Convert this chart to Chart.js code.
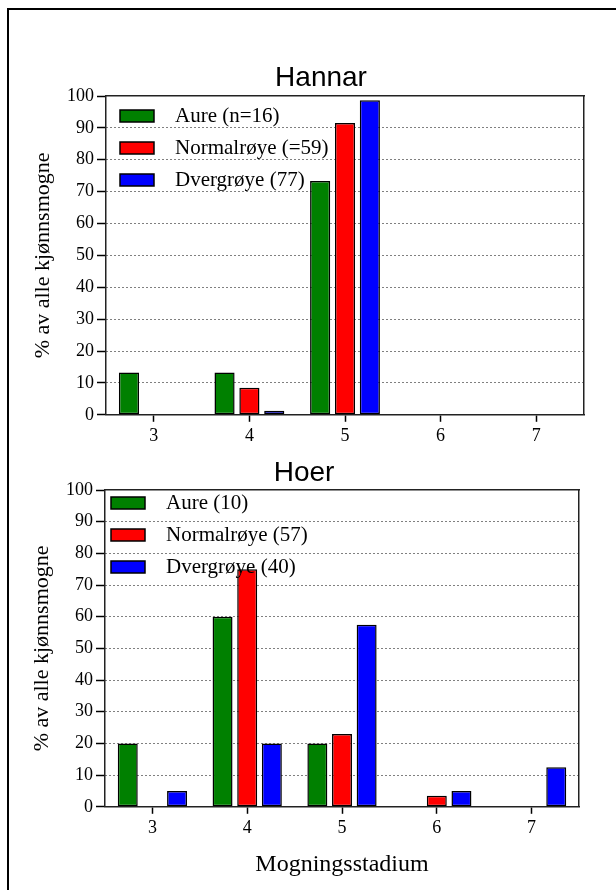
<!DOCTYPE html>
<html>
<head>
<meta charset="utf-8">
<script src="https://cdn.jsdelivr.net/npm/chart.js@4.4.1/dist/chart.umd.min.js"></script>
<style>
  html, body { margin: 0; padding: 0; background: #fff; overflow: hidden; }
  body { width: 616px; height: 890px; position: relative; }
  #frame { position: absolute; left: 7px; top: 8px; width: 700px; height: 1000px; border: 2px solid #000; }
  canvas { position: absolute; }
</style>
</head>
<body>
<div id="frame"></div>
<canvas id="hannar-chart" width="606" height="415" style="left:10px; top:40px;"></canvas>
<canvas id="hoer-chart" width="606" height="442" style="left:10px; top:450px;"></canvas>
<script>
// modningsstadium
const stages = ['3', '4', '5', '6', '7'];
const yTicks = [0, 10, 20, 30, 40, 50, 60, 70, 80, 90, 100];

// Hannar (%)
const hannarLabels = ['Aure (n=16)', 'Normalrøye (=59)', 'Dvergrøye (77)'];
const hannarAure = [13.3, 13.3, 73.3, 0, 0];
const hannarNormal = [0, 8.5, 91.5, 0, 0];
const hannarDverg = [0, 1.3, 98.7, 0, 0];

// Hoer (%)
const hoerLabels = ['Aure (10)', 'Normalrøye (57)', 'Dvergrøye (40)'];
const hoerAure = [20, 60, 20, 0, 0];
const hoerNormal = [0, 75, 23, 3.5, 0];
const hoerDverg = [5, 20, 57.5, 5, 12.5];

const colors = ['#008000', '#ff0000', '#0000ff'];
const serif = 'Liberation Serif';

// legend on top of the bars, placed inside the plot box
const legendTweak = {
  id: 'legendTweak',
  afterInit(chart) {
    const lg = chart.legend;
    lg._layers = () => [{ z: 1, draw: (area) => lg.draw(area) }];
  },
  afterLayout(chart, args, opts) {
    const lg = chart.legend;
    const h = lg.height;
    lg.left = chart.chartArea.left + (opts.dx || 0);
    lg.top = chart.chartArea.top + (opts.dy || 0);
    lg.bottom = lg.top + h;
  }
};

function makeChart(id, o) {
  const ctx = document.getElementById(id);
  new Chart(ctx, {
    type: 'bar',
    data: {
      labels: stages,
      datasets: o.series.map((s, i) => ({
        label: o.labels[i],
        data: s,
        backgroundColor: colors[i],
        borderColor: '#000',
        borderWidth: 1.5,
        borderSkipped: false,
        barPercentage: 0.81,
        categoryPercentage: 0.78
      }))
    },
    plugins: [legendTweak],
    options: {
      responsive: false,
      animation: false,
      layout: { padding: o.padding },
      scales: {
        x: {
          type: 'category',
          offset: true,
          grid: { drawOnChartArea: false, offset: false, tickLength: 7, tickColor: '#000', tickWidth: 1.5 },
          border: { display: true, color: '#222', width: 1.5 },
          ticks: { color: '#000', padding: 4, font: { family: serif, size: 18 } },
          title: o.xTitle ? {
            display: true, text: o.xTitle, color: '#000',
            font: { family: serif, size: 24 }, padding: { top: 7.2, bottom: 4 }
          } : { display: false }
        },
        y: {
          min: 0,
          max: 100,
          afterBuildTicks: (axis) => { axis.ticks = yTicks.map(v => ({ value: v })); },
          afterFit: (axis) => { axis.width = 76; },
          grid: {
            color: (c) => (c.tick && (c.tick.value === 0 || c.tick.value === 100)) ? 'rgba(0,0,0,0)' : '#000',
            tickColor: '#000', tickWidth: 1.5, tickLength: 9, lineWidth: 1
          },
          border: { display: true, color: '#222', width: 1.5, dash: [1, 3] },
          ticks: { color: '#000', padding: 3, font: { family: serif, size: 18 } },
          title: {
            display: true, text: '% av alle kjønnsmogne', color: '#000',
            font: { family: serif, size: 22 }, padding: { top: 0, bottom: 4 }
          }
        },
        x2: {
          type: 'linear', position: 'top', min: 0, max: 1,
          afterFit: (axis) => { axis.height = 0; },
          ticks: { display: false },
          grid: { display: false, drawTicks: false },
          border: { display: true, color: '#222', width: 1.5 }
        },
        y2: {
          type: 'linear', position: 'right', min: 0, max: 100,
          afterFit: (axis) => { axis.width = o.rightWidth; },
          ticks: { display: false },
          grid: { display: false, drawTicks: false },
          border: { display: true, color: '#222', width: 1.5 }
        }
      },
      plugins: {
        title: {
          display: true,
          text: o.title,
          color: '#000',
          font: { family: 'Liberation Sans', size: 28, weight: 'normal' },
          padding: o.titlePadding
        },
        legend: {
          position: 'chartArea',
          align: 'start',
          labels: {
            boxWidth: 34,
            boxHeight: 12,
            padding: 11,
            color: '#000',
            font: { family: serif, size: 21 },
            generateLabels: (chart) => Chart.defaults.plugins.legend.labels.generateLabels(chart)
              .map(l => Object.assign(l, { text: '  ' + l.text }))
          }
        },
        tooltip: { enabled: false },
        legendTweak: o.nudge
      }
    }
  });
}

makeChart('hannar-chart', {
  title: 'Hannar',
  labels: hannarLabels,
  series: [hannarAure, hannarNormal, hannarDverg],
  padding: { left: 20, right: 4, top: 21, bottom: 3.6 },
  titlePadding: { top: 0, bottom: 1.4 },
  rightWidth: 28,
  nudge: { dx: 3, dy: -1.5 }
});

makeChart('hoer-chart', {
  title: 'Hoer',
  labels: hoerLabels,
  series: [hoerAure, hoerNormal, hoerDverg],
  padding: { left: 19, right: 37, top: 6.2, bottom: 8.6 },
  titlePadding: { top: 0, bottom: 0.2 },
  rightWidth: 0,
  xTitle: 'Mogningsstadium',
  nudge: { dx: -5, dy: -8.5 }
});
</script>
</body>
</html>
